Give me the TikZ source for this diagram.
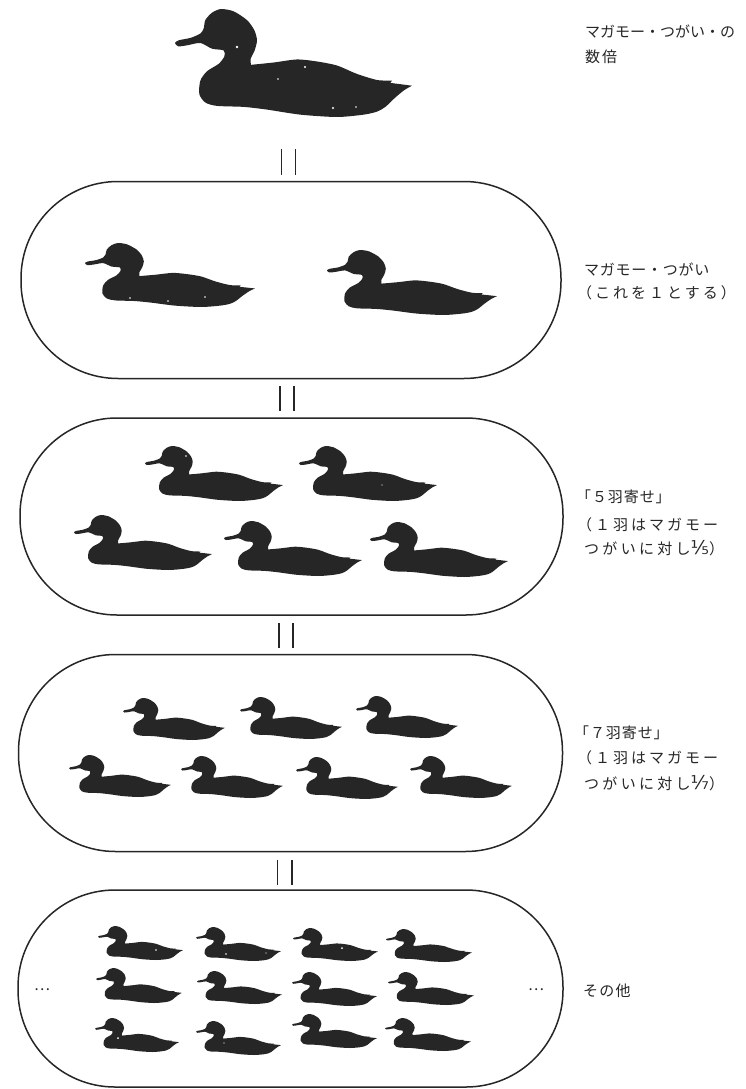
\documentclass[tikz,border=0pt]{standalone}
\usepackage{fontspec}
\setmainfont{Noto Sans CJK JP}
\newfontfamily\fracfont{DejaVu Sans}
\definecolor{ink}{HTML}{262626}
% One duck silhouette: left edge, top edge, overall width, overall height
\newcommand{\duckat}[4]{%
  \begin{scope}[shift={(#1,#2)},xscale={#3/711},yscale={#4/321},shift={(-74,-27)}]
    \fill[ink] (785,255)
      plot[smooth,tension=0.45] coordinates {
        (785,255) (762,268) (735,290) (705,318) (680,332) (640,341) (560,348)
        (450,341) (350,326) (280,318) (200,315) (165,305) (147,280) (150,240)
        (170,212) (205,190) (222,168) (220,150) (185,145) (150,128) (110,135)
        (84,138) (74,128) (85,120) (120,113) (150,100) (160,85) (165,60) (185,38)
        (212,27) (250,34) (290,60) (312,90) (320,120) (313,150) (301,175) (302,193)}
      plot[smooth,tension=0.45] coordinates {
        (302,193) (370,186) (440,177) (500,183) (560,195) (620,220) (680,238) (725,240)}
      -- (712,256) -- cycle;
  \end{scope}}
\tikzset{
  capsule/.style={draw=ink,line width=1.5pt,rectangle,rounded corners=97pt,
    inner sep=0pt,minimum width=#1,minimum height=197pt},
  caption/.style={anchor=west,inner sep=0pt,text=ink,font=\fontsize{15}{15}\selectfont},
  dots/.style={inner sep=0pt,text=ink,font=\fontsize{15}{15}\selectfont},
  equalbar/.style={draw=ink,line width=1.9pt},
  speck/.style={fill=white,draw=none}
}
\newcommand{\spaced}[1]{\addfontfeatures{LetterSpace=#1}}
\newcommand{\frc}[1]{{\fracfont\fontsize{19}{19}\selectfont #1}}
\begin{document}
\begin{tikzpicture}[x=1pt,y=-1pt]
\useasboundingbox (0,0) rectangle (745,1089);

% Capsules
\node[capsule=540pt] (c1) at (291,280) {};
\node[capsule=543pt] (c2) at (291.5,516.5) {};
\node[capsule=544pt] (c3) at (290.5,753) {};
\node[capsule=545pt] (c4) at (290.5,988.5) {};

% Double bars between the rows
\foreach \n/\xa/\xb/\ya/\yb in {1/281.5/295.5/149/175, 2/280/294/386/411, 3/279/293/623/648, 4/277.5/292/860/885}{
  \coordinate (l\n a) at (\xa,\ya);
  \coordinate (l\n b) at (\xa,\yb);
  \coordinate (r\n a) at (\xb,\ya);
  \coordinate (r\n b) at (\xb,\yb);
  \draw[equalbar] (l\n a) -- (l\n b);
  \draw[equalbar] (r\n a) -- (r\n b);
}

% Large duck
\duckat{175}{9}{237}{108}

% Pair
\duckat{85}{243}{170}{64}
\duckat{327}{250}{170}{65}

% Five birds
\duckat{145}{446}{138}{55}
\duckat{299}{446}{138}{55}
\duckat{74}{515}{138}{55}
\duckat{224}{521}{138}{55}
\duckat{370}{522}{138}{55}

% Seven birds
\duckat{123}{698}{102}{42}
\duckat{240}{697}{102}{42}
\duckat{356}{696}{102}{42}
\duckat{69}{755}{102}{42}
\duckat{181}{756}{102}{42}
\duckat{296}{757}{102}{42}
\duckat{410}{756}{102}{42}

% Twelve birds
\duckat{98}{926}{85}{34}
\duckat{196}{927}{85}{34}
\duckat{293}{928}{85}{33}
\duckat{386}{929}{86}{33}
\duckat{96}{968}{86}{35}
\duckat{197}{971}{85}{33}
\duckat{292}{972}{85}{34}
\duckat{388}{972}{86}{33}
\duckat{95}{1018}{84}{34}
\duckat{196}{1021}{85}{34}
\duckat{292}{1014}{85}{34}
\duckat{385}{1018}{86}{33}

% Flecks of paper showing through the printed shapes
\foreach \x/\y/\r in {237/47/1.3, 305/67/1.2, 278/79/.8, 333/108/1.2, 356/107/.8,
    130/298/.8, 168/301/.8, 205/297/.8, 186/456/.8, 382/485/.7,
    156/950/.8, 226/954/.8, 266/953/.7, 342/948/1, 448/947/.5, 118/1038/1, 224/1043/.7}
  \fill[speck] (\x,\y) circle (\r);

\node[dots] (dl) at (42,990) {…};
\node[dots] (dr) at (536,990) {…};

% Captions
\node[caption] (t1a) at (585,31) {マガモー・つがい・の};
\node[caption] (t1b) at (585,57) {\spaced{13}数倍};
\node[caption] (t2a) at (584,269) {\spaced{5}マガモー・つがい};
\node[caption] (t2b) at (577,293) {\spaced{20}（これを１とする）};
\node[caption] (t3a) at (576,497) {\spaced{6}「５羽寄せ」};
\node[caption] (t3b) at (577,525) {\spaced{20}（１羽はマガモー};
\node[caption] (t3c) at (584,548) {\spaced{22}つがいに対し\frc{⅕}）};
\node[caption] (t4a) at (574,733) {\spaced{6}「７羽寄せ」};
\node[caption] (t4b) at (577,758) {\spaced{20}（１羽はマガモー};
\node[caption] (t4c) at (584,783) {\spaced{22}つがいに対し\frc{⅐}）};
\node[caption] (t5) at (583,991) {\spaced{8}その他};
\end{tikzpicture}
\end{document}
